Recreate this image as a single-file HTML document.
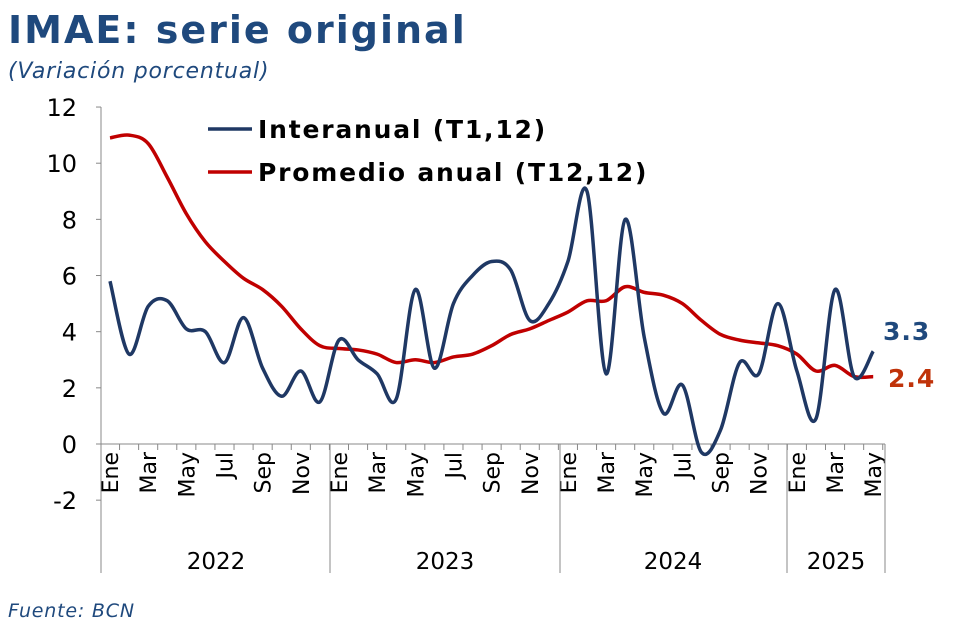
<!DOCTYPE html>
<html><head><meta charset="utf-8"><style>
body{margin:0;background:#fff;width:960px;height:629px;overflow:hidden}
svg{display:block}
text{font-family:"DejaVu Sans","Liberation Sans",sans-serif}
</style></head><body>
<svg id="s" width="960" height="629" xmlns="http://www.w3.org/2000/svg">
<text x="8" y="43" font-size="38" font-weight="bold" fill="#1F497D" letter-spacing="2">IMAE: serie original</text>
<text x="8" y="78" font-size="22" font-style="italic" fill="#1F497D" letter-spacing="0.8">(Variación porcentual)</text>
<text x="8" y="617" font-size="19" font-style="italic" fill="#1F497D" letter-spacing="0.8">Fuente: BCN</text>
<g id="g"></g>
</svg>
<script>
var blue=[5.8,3.2,4.9,5.1,4.1,4.0,2.9,4.5,2.7,1.7,2.6,1.5,3.7,3.0,2.5,1.6,5.5,2.7,5.0,6.0,6.5,6.2,4.4,5.0,6.5,9.0,2.5,8.0,3.8,1.1,2.1,-0.3,0.5,2.9,2.5,5.0,2.6,0.9,5.5,2.4,3.3];
var red=[10.9,11.0,10.7,9.5,8.2,7.2,6.5,5.9,5.5,4.9,4.1,3.5,3.4,3.35,3.2,2.9,3.0,2.9,3.1,3.2,3.5,3.9,4.1,4.4,4.7,5.1,5.1,5.6,5.4,5.3,5.0,4.4,3.9,3.7,3.6,3.5,3.2,2.6,2.8,2.4,2.4];
var DX=19.08;
function X(i){return 110+i*DX}
function Y(v){return 444-v*28.08}
function path(d){var p=d.map(function(v,i){return [X(i),Y(v)]});var s="M"+p[0][0]+","+p[0][1];
for(var i=0;i<p.length-1;i++){var p0=p[i-1]||p[i],p1=p[i],p2=p[i+1],p3=p[i+2]||p2;
s+=" C"+(p1[0]+(p2[0]-p0[0])/6)+","+(p1[1]+(p2[1]-p0[1])/6)+" "+(p2[0]-(p3[0]-p1[0])/6)+","+(p2[1]-(p3[1]-p1[1])/6)+" "+p2[0]+","+p2[1];}return s}
var h='';
h+='<line x1="101" y1="107" x2="101" y2="444" stroke="#888" stroke-width="1"/>';
h+='<line x1="101" y1="444" x2="885" y2="444" stroke="#888" stroke-width="1"/>';
for(var v=-2;v<=12;v+=2){h+='<text x="77" y="'+(Y(v)+9)+'" font-size="24" text-anchor="end" fill="#000">'+v+'</text>';
h+='<line x1="96" y1="'+Y(v)+'" x2="101" y2="'+Y(v)+'" stroke="#888"/>';}
var m=["Ene","Mar","May","Jul","Sep","Nov"];
for(var i=0;i<41;i++){var x=X(i);h+='<line x1="'+(x+DX/2)+'" y1="444" x2="'+(x+DX/2)+'" y2="450" stroke="#888"/>';
if(i%2==0){var lab=m[(i%12)/2];h+='<text transform="translate('+(x+8)+',452) rotate(-90)" font-size="22" text-anchor="end" fill="#000">'+lab+'</text>';}}
[101,330,560,787,885].forEach(function(x){h+='<line x1="'+x+'" y1="444" x2="'+x+'" y2="573" stroke="#888"/>'});
[[216,"2022"],[445,"2023"],[673,"2024"],[836,"2025"]].forEach(function(a){h+='<text x="'+a[0]+'" y="569" font-size="23" text-anchor="middle" fill="#000">'+a[1]+'</text>'});
h+='<path d="'+path(red)+'" fill="none" stroke="#C00000" stroke-width="3.5"/>';
h+='<path d="'+path(blue)+'" fill="none" stroke="#1F3864" stroke-width="3.5"/>';
h+='<line x1="208" y1="129" x2="252" y2="129" stroke="#1F3864" stroke-width="3.5"/>';
h+='<text x="258" y="138" font-size="25" font-weight="bold" fill="#000" letter-spacing="1.8">Interanual (T1,12)</text>';
h+='<line x1="208" y1="172" x2="252" y2="172" stroke="#C00000" stroke-width="3.5"/>';
h+='<text x="258" y="181" font-size="25" font-weight="bold" fill="#000" letter-spacing="1.8">Promedio anual (T12,12)</text>';
h+='<text x="883" y="340" font-size="25" font-weight="bold" fill="#1F497D" letter-spacing="1">3.3</text>';
h+='<text x="888" y="387" font-size="25" font-weight="bold" fill="#C0330A" letter-spacing="1">2.4</text>';
document.getElementById('g').innerHTML=h;
</script>
</body></html>
